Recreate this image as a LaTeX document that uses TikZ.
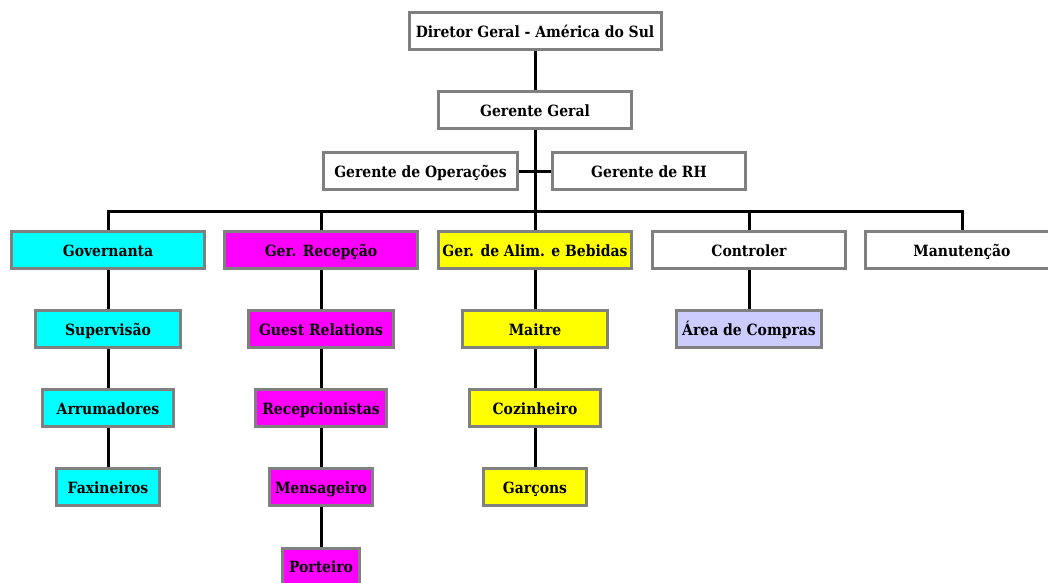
\documentclass[tikz,border=0pt]{standalone}
\usepackage{fontspec}
\usetikzlibrary{backgrounds}
\setmainfont{DejaVu Serif Condensed}
\definecolor{bordergray}{HTML}{808080}
\definecolor{cy}{HTML}{00FFFF}
\definecolor{mg}{HTML}{FF00FF}
\definecolor{yl}{HTML}{FFFF00}
\definecolor{lav}{HTML}{CCCCFF}
\begin{document}
\begin{tikzpicture}[x=1pt,y=-1pt,
  orgbox/.style={draw=bordergray, line width=3pt, fill=white, minimum height=37pt, inner sep=0pt,
    text height=12pt, text depth=0pt,
    font=\fontsize{15.5}{17}\bfseries\selectfont},
  wA/.style={minimum width=193pt},
  wB/.style={minimum width=145pt},
  wC/.style={minimum width=131pt},
  wD/.style={minimum width=103pt},
  conn/.style={line width=3pt, black}]
\useasboundingbox (0,0) rectangle (1048,582);
\clip (0,0) rectangle (1048,582);
% top
\node[orgbox, minimum width=252pt] (dir) at (535,31) {Diretor Geral - América do Sul};
\node[orgbox, wA] (gg) at (535,110) {Gerente Geral};
\node[orgbox, minimum width=194pt] (ops) at (420.5,171) {Gerente de Operações};
\node[orgbox, wA] (rh) at (649,171) {Gerente de RH};
% level 1
\node[orgbox, wA, fill=cy] (gov) at (108,250) {Governanta};
\node[orgbox, wA, fill=mg] (rec) at (321,250) {Ger. Recepção};
\node[orgbox, wA, fill=yl] (alim) at (535,250) {Ger. de Alim. e Bebidas};
\node[orgbox, wA] (ctl) at (749,250) {Controler};
\node[orgbox, wA] (man) at (962,250) {Manutenção};
% level 2
\node[orgbox, wB, fill=cy] (sup) at (108,329) {Supervisão};
\node[orgbox, wB, fill=mg] (guest) at (321,329) {Guest Relations};
\node[orgbox, wB, fill=yl] (mai) at (535,329) {Maitre};
\node[orgbox, wB, fill=lav] (comp) at (749,329) {Área de Compras};
% level 3
\node[orgbox, wC, fill=cy] (arr) at (108,408) {Arrumadores};
\node[orgbox, wC, fill=mg] (recp) at (321,408) {Recepcionistas};
\node[orgbox, wC, fill=yl] (coz) at (535,408) {Cozinheiro};
% level 4
\node[orgbox, wD, fill=cy] (fax) at (108,487) {Faxineiros};
\node[orgbox, wD, fill=mg] (mens) at (321,487) {Mensageiro};
\node[orgbox, wD, fill=yl] (gar) at (535,487) {Garçons};
% level 5
\node[orgbox, minimum width=77pt, fill=mg] (port) at (321,566.5) {Porteiro};
% connectors
\coordinate (bus) at (535,211);
\begin{scope}[on background layer]
\fill[white] (0,0) rectangle (1048,582);
\draw[conn] (dir.south) -- (gg.north);
\draw[conn] (gg.south) -- (alim.north);
\draw[conn] (ops.east) -- (rh.west);
\draw[conn] (gov.north) |- (bus) -| (man.north);
\draw[conn] (rec.north) -- (rec.north |- bus);
\draw[conn] (ctl.north) -- (ctl.north |- bus);
\draw[conn] (gov.south) -- (sup.north);
\draw[conn] (sup.south) -- (arr.north);
\draw[conn] (arr.south) -- (fax.north);
\draw[conn] (rec.south) -- (guest.north);
\draw[conn] (guest.south) -- (recp.north);
\draw[conn] (recp.south) -- (mens.north);
\draw[conn] (mens.south) -- (port.north);
\draw[conn] (alim.south) -- (mai.north);
\draw[conn] (mai.south) -- (coz.north);
\draw[conn] (coz.south) -- (gar.north);
\draw[conn] (ctl.south) -- (comp.north);
\end{scope}
\end{tikzpicture}
\end{document}
